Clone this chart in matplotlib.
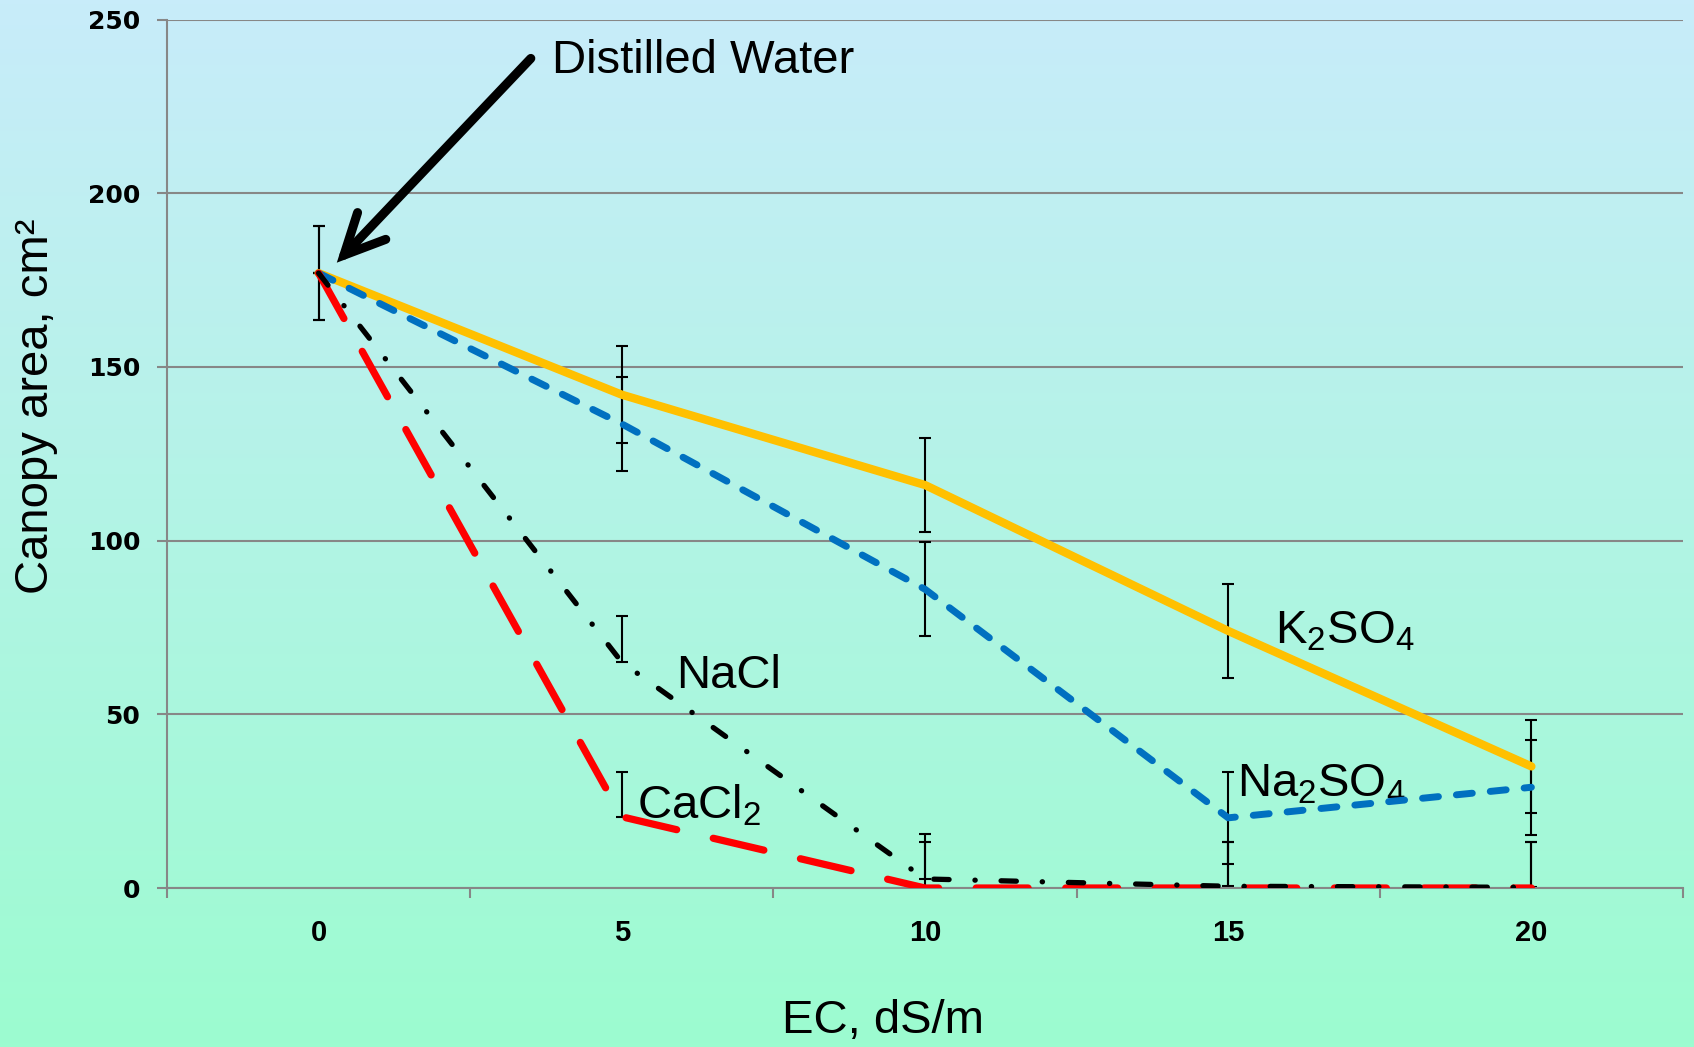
import numpy as np
import matplotlib
matplotlib.use("Agg")
import matplotlib.pyplot as plt
from matplotlib.colors import LinearSegmentedColormap

plt.rcParams['font.family'] = ['Liberation Sans', 'DejaVu Sans']
plt.rcParams['mathtext.fontset'] = 'custom'
plt.rcParams['mathtext.rm'] = 'Liberation Sans'

# EC levels (dS/m) and canopy area (cm2) for each salt
ec_levels = ['0', '5', '10', '15', '20']
k2so4 = [177, 142, 116, 74, 35]
k2so4_err = [13.5, 13.9, 13.5, 13.5, 13.4]
na2so4 = [177, 133.6, 86, 20.2, 29]
na2so4_err = [13.5, 13.5, 13.5, 13.2, 13.6]
nacl = [177, 65, 2.6, 0.5, 0.2]
nacl_err = [0, 13.3, 13.0, 12.8, 13.0]
cacl2 = [177, 20.5, 0, 0, 0]
cacl2_err = [0, 12.9, 13.2, 13.2, 13.2]

x = np.arange(len(ec_levels))

fig = plt.figure(figsize=(16.94, 10.47), dpi=100)

# gradient background, light blue at the top to mint green at the bottom
bg = fig.add_axes([0, 0, 1, 1], zorder=-1)
cmap = LinearSegmentedColormap.from_list('bg', ['#9CFCD0', '#C8ECFA'])
bg.imshow(np.linspace(0, 1, 256).reshape(-1, 1), cmap=cmap, aspect='auto',
          origin='lower', extent=[0, 1, 0, 1])
bg.axis('off')

ax = fig.add_axes([0.09858, 0.15186, 0.89492, 0.82951])
ax.set_facecolor('none')

eb = dict(fmt='none', ecolor='black', elinewidth=1.5, capsize=4, capthick=1.5, zorder=2)
ax.errorbar(x, k2so4, yerr=k2so4_err, **eb)
ax.errorbar(x, na2so4, yerr=na2so4_err, **eb)
ax.errorbar(x, nacl, yerr=[np.zeros(5), nacl_err], **eb)
ax.errorbar(x, cacl2, yerr=[np.zeros(5), cacl2_err], **eb)

ax.plot(x, k2so4, color='#FFC000', lw=6, solid_capstyle='round',
        solid_joinstyle='round', zorder=3)
ax.plot(x, na2so4, color='#0070C0', lw=5, linestyle=(0, (2.3, 2.6)),
        dash_capstyle='round', dash_joinstyle='round', zorder=4)
ax.plot(x, cacl2, color='#FF0000', lw=5.2, linestyle=(0, (7.2, 5.2)),
        dash_capstyle='round', dash_joinstyle='round', zorder=5)
ax.plot(x, nacl, color='black', lw=3.8, linestyle=(0, (2.9, 4.9, 0.05, 4.9)),
        dash_capstyle='round', dash_joinstyle='round', zorder=6)

ax.set_xlim(-0.5, 4.5)
ax.set_ylim(0, 250)
ax.set_yticks(np.arange(0, 251, 50))
ax.set_xticks(x)
ax.set_xticklabels(ec_levels)
ax.set_xticks(np.arange(-0.5, 4.6, 1), minor=True)
ax.tick_params(axis='x', which='major', length=0, pad=22, labelsize=21)
ax.tick_params(axis='x', which='minor', length=7.2, width=1.5, color='#878787')
ax.tick_params(axis='y', length=7.2, width=1.5, color='#878787', pad=12,
               labelsize=18, labelfontfamily='DejaVu Sans')

ax.grid(axis='y', color='#878787', lw=1.5)
ax.set_axisbelow(True)
for s in ['top', 'right']:
    ax.spines[s].set_visible(False)
ax.spines['left'].set_color('#878787')
ax.spines['left'].set_linewidth(1.5)
ax.spines['bottom'].set_color('#878787')
ax.spines['bottom'].set_linewidth(1.5)

fig.text(0.0213, 0.612, 'Canopy area, cm²', rotation=90, fontsize=34,
         ha='center', va='center')
fig.text(0.521, 0.025, 'EC, dS/m', fontsize=34, ha='center', va='center')

ax.text(1.18, 57.6, 'NaCl', fontsize=34)
ax.text(1.05, 20, 'CaCl$_\\mathregular{2}$', fontsize=34)
ax.text(3.155, 70.3, 'K$_\\mathregular{2}$SO$_\\mathregular{4}$', fontsize=34)
ax.text(3.03, 26.2, 'Na$_\\mathregular{2}$SO$_\\mathregular{4}$', fontsize=34)
ax.text(0.77, 234.5, 'Distilled Water', fontsize=34)

ax.annotate('', xy=(0.06, 180), xytext=(0.70, 238.8),
            arrowprops=dict(arrowstyle='->,head_length=2.9,head_width=1.4',
                            lw=6.5, color='black', shrinkA=0, shrinkB=0,
                            joinstyle='miter', capstyle='round'))

fig.canvas.draw()
for lbl in ax.get_xticklabels() + ax.get_yticklabels():
    lbl.set_fontweight('bold')

fig.savefig('out.png', dpi=100)
